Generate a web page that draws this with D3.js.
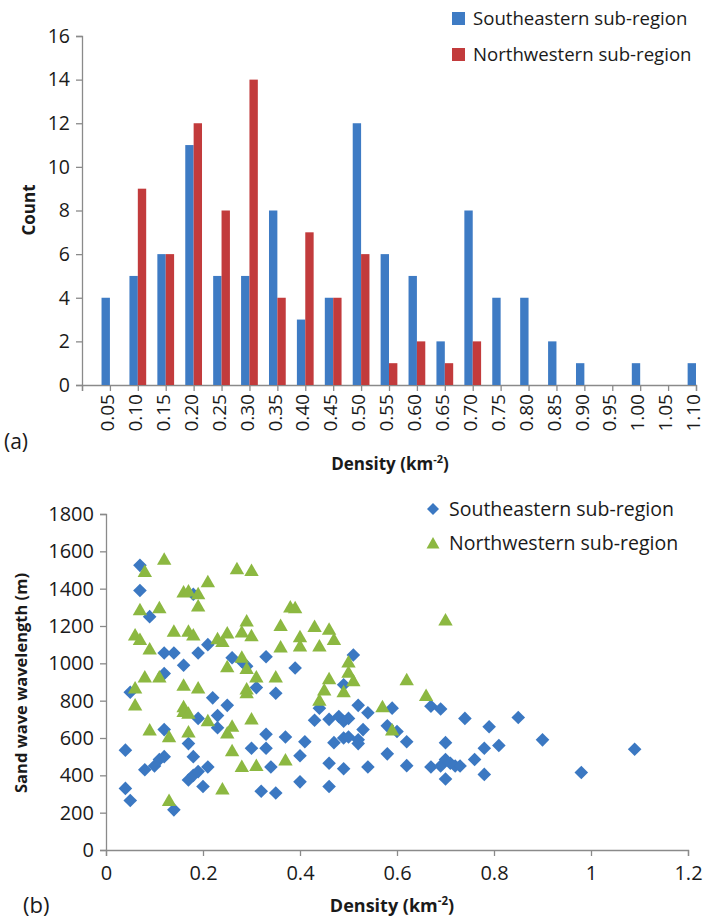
<!DOCTYPE html>
<html>
<head>
<meta charset="utf-8">
<script src="https://cdn.jsdelivr.net/npm/d3@7"></script>
<style>
  body { margin: 0; background: #fff; }
  svg { display: block; font-family: "Open Sans", sans-serif; }
</style>
</head>
<body>
<svg id="chart" width="705" height="920"></svg>
<script>
// ---------- Data: histogram (a) ----------
const densityBins = ["0.05","0.10","0.15","0.20","0.25","0.30","0.35","0.40","0.45","0.50","0.55",
                     "0.60","0.65","0.70","0.75","0.80","0.85","0.90","0.95","1.00","1.05","1.10"];
const southeasternCounts = [4,5,6,11,5,5,8,3,4,12,6,5,2,8,4,4,2,1,0,1,0,1];
const northwesternCounts = [0,9,6,12,8,14,4,7,4,6,1,2,1,2,0,0,0,0,0,0,0,0];
const countTicks = [0,2,4,6,8,10,12,14,16];

// ---------- Data: scatter (b)  [density, wavelength] ----------
const southeasternPoints = [
  [0.07,1525],[0.07,1390],[0.09,1250],[0.05,845],[0.04,535],[0.04,330],[0.05,265],[0.08,430],
  [0.10,450],[0.11,485],[0.12,500],[0.12,1055],[0.14,1055],[0.12,945],[0.12,645],[0.14,215],
  [0.16,990],[0.17,570],[0.18,500],[0.17,375],[0.18,400],[0.19,420],[0.20,340],[0.19,705],
  [0.19,1055],[0.21,1100],[0.18,1370],[0.21,445],[0.22,815],[0.23,720],[0.23,655],[0.25,775],
  [0.26,1030],[0.28,1010],[0.29,985],[0.31,870],[0.30,545],[0.32,315],[0.33,545],[0.33,620],
  [0.34,445],[0.33,1035],[0.35,305],[0.35,840],[0.37,605],[0.39,975],[0.40,505],[0.40,365],
  [0.41,580],[0.43,695],[0.44,760],[0.46,340],[0.46,465],[0.46,700],[0.48,715],[0.49,690],
  [0.50,705],[0.47,575],[0.49,600],[0.50,605],[0.52,590],[0.49,435],[0.49,885],[0.51,1045],
  [0.52,775],[0.54,735],[0.53,645],[0.52,570],[0.54,445],[0.58,665],[0.58,515],[0.59,760],
  [0.60,635],[0.62,580],[0.62,452],[0.67,770],[0.69,755],[0.70,575],[0.67,445],[0.69,450],
  [0.70,485],[0.72,450],[0.73,450],[0.70,380],[0.71,465],[0.74,705],[0.76,485],[0.78,545],
  [0.78,405],[0.79,660],[0.81,560],[0.85,710],[0.90,590],[0.98,415],[1.09,540]
];
const northwesternPoints = [
  [0.12,1560],[0.08,1495],[0.27,1510],[0.30,1500],[0.21,1440],[0.16,1385],[0.17,1390],[0.19,1375],
  [0.19,1310],[0.07,1290],[0.11,1300],[0.38,1305],[0.39,1300],[0.14,1175],[0.06,1155],[0.07,1130],
  [0.09,1080],[0.17,1175],[0.18,1155],[0.23,1135],[0.24,1120],[0.25,1165],[0.29,1230],[0.28,1170],
  [0.30,1150],[0.36,1205],[0.36,1090],[0.40,1145],[0.40,1095],[0.43,1200],[0.44,1095],[0.46,1185],
  [0.47,1130],[0.25,985],[0.28,1035],[0.29,975],[0.31,930],[0.35,930],[0.29,865],[0.29,845],
  [0.08,930],[0.11,930],[0.06,870],[0.06,780],[0.16,885],[0.19,870],[0.16,770],[0.16,745],
  [0.17,735],[0.21,695],[0.30,705],[0.09,645],[0.13,610],[0.17,635],[0.25,630],[0.26,665],
  [0.26,535],[0.28,450],[0.31,455],[0.37,485],[0.24,330],[0.13,268],[0.46,920],[0.45,860],
  [0.44,805],[0.49,850],[0.50,1010],[0.50,955],[0.51,910],[0.70,1235],[0.62,915],[0.66,830],
  [0.57,770],[0.59,645]
];
const densityTicks = [0,0.2,0.4,0.6,0.8,1,1.2];
const wavelengthTicks = [0,200,400,600,800,1000,1200,1400,1600,1800];
const seriesNames = ["Southeastern sub-region","Northwestern sub-region"];

// ---------- Styles ----------
const BLUE_BAR = "#3e7bc4", RED_BAR = "#c23b3c";
const BLUE_PT = "#3b78c2", GREEN_PT = "#8cb841";
const AXIS = "#8a8a8a", TXT = "#1a1a1a";

const svg = d3.select("#chart");

// ===================== (a) Histogram =====================
const xA = d3.scaleLinear().domain([0, 1.10]).range([82, 696]);
const yA = d3.scaleLinear().domain([0, 16]).range([385, 36]);
const step = xA(0.05) - xA(0);
const bw = step * 0.3;

const gA = svg.append("g");
const yAxisA = d3.axisLeft(yA).tickValues(countTicks).tickSize(6).tickPadding(6).tickFormat(d3.format("d"));
const yaG = gA.append("g").attr("transform", `translate(${xA(0)},0)`).call(yAxisA);
const xTickVals = [0].concat(densityBins.map(Number));
const xAxisA = d3.axisBottom(xA).tickValues(xTickVals).tickSize(6).tickFormat(d => d === 0 ? "" : d3.format(".2f")(d));
const xaG = gA.append("g").attr("transform", `translate(0,${yA(0)})`).call(xAxisA);

[yaG, xaG].forEach(g => {
  g.select(".domain").attr("stroke", AXIS).attr("stroke-width", 1.3);
  g.selectAll(".tick line").attr("stroke", AXIS).attr("stroke-width", 1.3);
  g.selectAll(".tick text").attr("fill", TXT).style("font-family", "Open Sans").style("font-size", "19.5px");
});
xaG.selectAll(".tick text")
  .attr("transform", "rotate(-90)")
  .attr("text-anchor", "end")
  .attr("x", -9).attr("y", -3).attr("dy", "0.35em")
  .style("font-size", "19px");

gA.selectAll("rect.se").data(densityBins.map((b, i) => ({b: +b, v: southeasternCounts[i]})).filter(d => d.v > 0))
  .join("rect").attr("class", "se")
  .attr("x", d => xA(d.b) - bw).attr("width", bw)
  .attr("y", d => yA(d.v)).attr("height", d => yA(0) - yA(d.v))
  .attr("fill", BLUE_BAR);
gA.selectAll("rect.nw").data(densityBins.map((b, i) => ({b: +b, v: northwesternCounts[i]})).filter(d => d.v > 0))
  .join("rect").attr("class", "nw")
  .attr("x", d => xA(d.b)).attr("width", bw)
  .attr("y", d => yA(d.v)).attr("height", d => yA(0) - yA(d.v))
  .attr("fill", RED_BAR);

gA.append("text").attr("transform", "translate(35,210) rotate(-90)")
  .attr("text-anchor", "middle").attr("font-weight", "bold").attr("font-size", 17).attr("fill", TXT).text("Count");
const tA = gA.append("text").attr("x", 390).attr("y", 470).attr("text-anchor", "middle")
  .attr("font-weight", "bold").attr("font-size", 17).attr("fill", TXT);
tA.append("tspan").text("Density (km");
tA.append("tspan").attr("dy", -7).attr("font-size", 11).text("-2");
tA.append("tspan").attr("dy", 7).text(")");
gA.append("text").attr("x", 4).attr("y", 449).attr("font-size", 21).attr("fill", TXT).text("(a)");

const legA = gA.append("g");
[[BLUE_BAR, 12], [RED_BAR, 48]].forEach((c, i) => {
  legA.append("rect").attr("x", 452).attr("y", c[1]).attr("width", 13).attr("height", 13).attr("fill", c[0]);
  legA.append("text").attr("x", 473).attr("y", c[1] + 13).attr("font-size", 18.6).attr("fill", TXT).text(seriesNames[i]);
});

// ===================== (b) Scatter =====================
const xB = d3.scaleLinear().domain([0, 1.2]).range([106, 688]);
const yB = d3.scaleLinear().domain([0, 1800]).range([850, 514]);
const gB = svg.append("g");

const yAxisB = d3.axisLeft(yB).tickValues(wavelengthTicks).tickSize(6).tickPadding(6).tickFormat(d3.format("d"));
const ybG = gB.append("g").attr("transform", `translate(${xB(0)},0)`).call(yAxisB);
const xAxisB = d3.axisBottom(xB).tickValues(densityTicks).tickSize(6).tickPadding(10).tickFormat(d => String(d));
const xbG = gB.append("g").attr("transform", `translate(0,${yB(0)})`).call(xAxisB);
[ybG, xbG].forEach(g => {
  g.select(".domain").attr("stroke", AXIS).attr("stroke-width", 1.3);
  g.selectAll(".tick line").attr("stroke", AXIS).attr("stroke-width", 1.3);
  g.selectAll(".tick text").attr("fill", TXT).style("font-family", "Open Sans").style("font-size", "20px");
});

const diamond = "M0,-6.8L6.8,0L0,6.8L-6.8,0Z";
const triangle = "M0,-6.5L7.2,6L-7.2,6Z";

gB.selectAll("path.se").data(southeasternPoints).join("path").attr("class", "se")
  .attr("d", diamond).attr("transform", d => `translate(${xB(d[0])},${yB(d[1])})`)
  .attr("fill", BLUE_PT);
gB.selectAll("path.nw").data(northwesternPoints).join("path").attr("class", "nw")
  .attr("d", triangle).attr("transform", d => `translate(${xB(d[0])},${yB(d[1])})`)
  .attr("fill", GREEN_PT);

gB.append("text").attr("transform", "translate(27,683) rotate(-90)")
  .attr("text-anchor", "middle").attr("font-weight", "bold").attr("font-size", 16.5).attr("fill", TXT)
  .text("Sand wave wavelength (m)");
const tB = gB.append("text").attr("x", 392).attr("y", 912).attr("text-anchor", "middle")
  .attr("font-weight", "bold").attr("font-size", 18).attr("fill", TXT);
tB.append("tspan").text("Density  (km");
tB.append("tspan").attr("dy", -7).attr("font-size", 11.5).text("-2");
tB.append("tspan").attr("dy", 7).text(")");
gB.append("text").attr("x", 23).attr("y", 913).attr("font-size", 22).attr("fill", TXT).text("(b)");

const legB = gB.append("g");
legB.append("path").attr("d", "M0,-6L6,0L0,6L-6,0Z").attr("transform", "translate(433,509)").attr("fill", BLUE_PT);
legB.append("path").attr("d", "M0,-6L6.5,5.5L-6.5,5.5Z").attr("transform", "translate(433,543)").attr("fill", GREEN_PT);
legB.append("text").attr("x", 449).attr("y", 516).attr("font-size", 19.5).attr("fill", TXT).text(seriesNames[0]);
legB.append("text").attr("x", 449).attr("y", 550).attr("font-size", 19.5).attr("fill", TXT).text(seriesNames[1]);
</script>
</body>
</html>
